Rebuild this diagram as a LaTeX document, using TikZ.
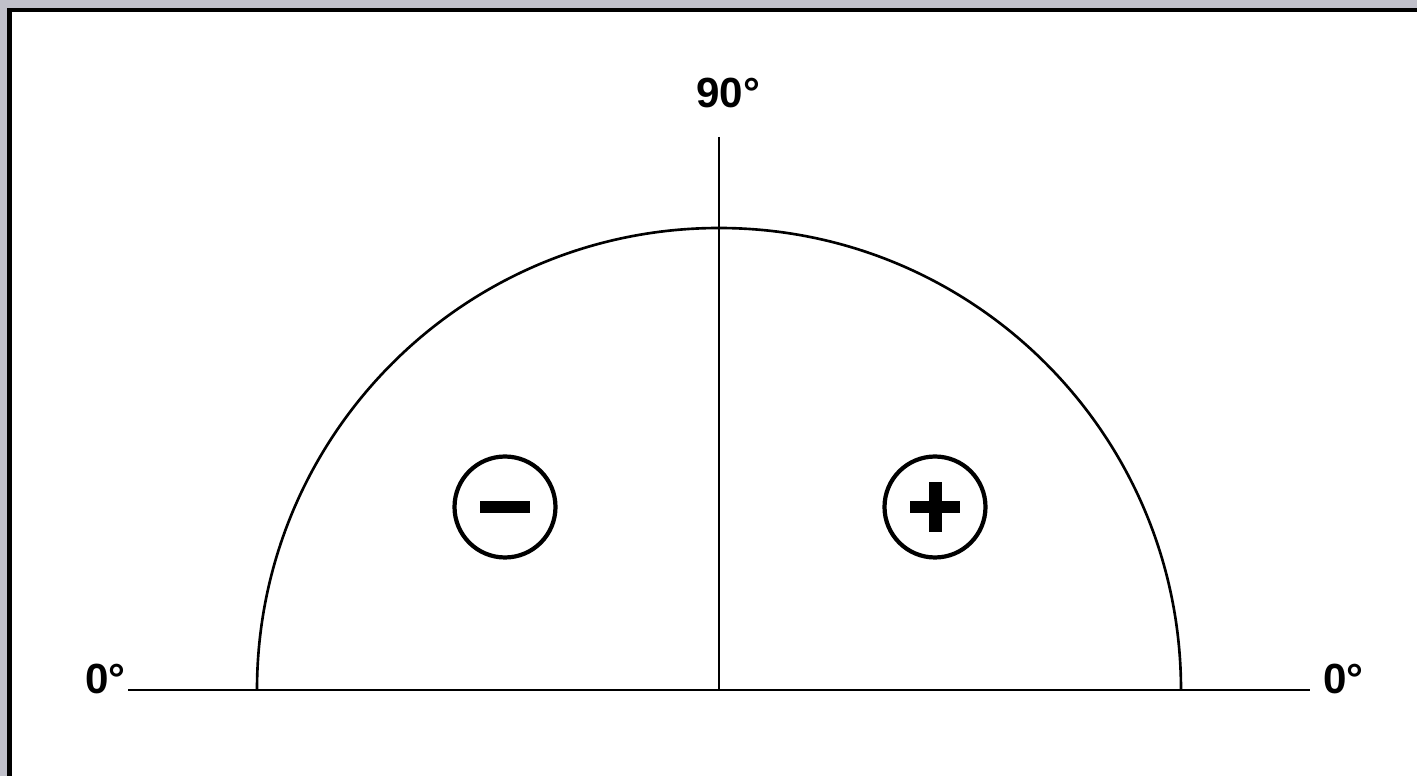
\documentclass[tikz,border=0pt]{standalone}
\usepackage{fontspec}
\setmainfont{Liberation Sans}
\usepackage{xcolor}
\usetikzlibrary{positioning}
\definecolor{framegray}{RGB}{192,192,202}

\begin{document}
\begin{tikzpicture}[x=0.02cm, y=-0.02cm, line width=1.5pt,
    font=\bfseries\fontsize{24}{28}\selectfont,
    lbl/.style={inner sep=0pt},
    sign/.style={draw, circle, line width=2.4pt, minimum size=2.02cm, inner sep=0pt}]
  % frame
  \useasboundingbox (0,0) rectangle (1417,776);
  \fill[framegray] (0,0) rectangle (1417,776);
  \fill[white] (9,10) rectangle (1417,776);
  \draw[line width=2.6pt] (9.5,776) -- (9.5,10) -- (1417,10);
  % axes
  \coordinate (O) at (719,690);
  \coordinate (L) at (128,690);
  \coordinate (R) at (1310,690);
  \coordinate (T) at (719,137);
  \coordinate (arcL) at (257,690);
  \coordinate (arcR) at (1181,690);
  \draw (L) -- (R);
  \draw (T) -- (O);
  \draw (arcL) arc[start angle=180, end angle=360, radius=462];
  % labels
  \node[lbl, anchor=base] (top) at (728,108) {90°};
  \node[lbl, anchor=base east] (left) at (127,693) {0°};
  \node[lbl, anchor=base west] (right) at (1322,693) {0°};
  % signs
  \node[sign] (minus) at (505,507) {};
  \node[sign] (plus) at (935,507) {};
  \fill[shift={(minus.center)}] (-25,-6) rectangle (25,6);
  \fill[shift={(plus.center)}] (-25,-6) rectangle (25,6);
  \fill[shift={(plus.center)}] (-6.5,-25) rectangle (6.5,25);
\end{tikzpicture}
\end{document}
